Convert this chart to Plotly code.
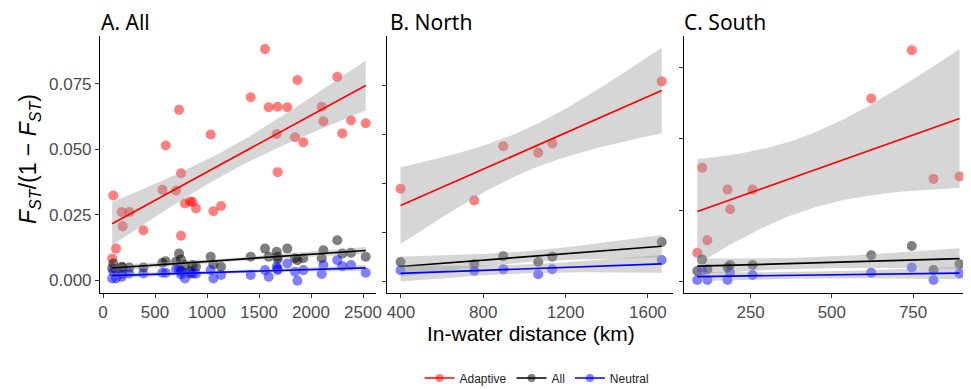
import numpy as np
import plotly.graph_objects as go

# ---------------- data ----------------
series_names = ["Adaptive", "All", "Neutral"]
series_colors = ["255,0,0", "0,0,0", "0,0,255"]

# Panel A: all 36 population pairs
dist_A = [88, 99, 125, 180, 189, 253, 388, 571, 603, 702, 731, 750, 750, 788, 837, 862, 894,
          1035, 1061, 1135, 1420, 1558, 1593, 1670, 1679, 1679, 1772, 1846, 1869, 1926,
          2103, 2119, 2253, 2301, 2385, 2526]
adaptive_A = [0.0082, 0.0323, 0.0120, 0.0260, 0.0205, 0.0260, 0.0190, 0.0345, 0.0514, 0.0342,
              0.0650, 0.0408, 0.0169, 0.0292, 0.0300, 0.0298, 0.0273, 0.0556, 0.0263, 0.0283,
              0.0698, 0.0882, 0.0660, 0.0558, 0.0662, 0.0412, 0.0660, 0.0545, 0.0764, 0.0526,
              0.0662, 0.0606, 0.0776, 0.0560, 0.0609, 0.0599]
all_A = [0.0045, 0.0063, 0.0040, 0.0051, 0.0048, 0.0048, 0.0048, 0.0066, 0.0072, 0.0070,
         0.0101, 0.0078, 0.0035, 0.0057, 0.0033, 0.0057, 0.0051, 0.0089, 0.0060, 0.0051,
         0.0089, 0.0120, 0.0089, 0.0108, 0.0089, 0.0080, 0.0120, 0.0083, 0.0076, 0.0083,
         0.0083, 0.0114, 0.0152, 0.0101, 0.0104, 0.0089]
neutral_A = [0.0006, 0.0032, 0.0006, 0.0013, 0.0023, 0.0025, 0.0025, 0.0028, 0.0028, 0.0041,
             0.0040, 0.0032, 0.0021, 0.0006, 0.0025, 0.0025, 0.0024, 0.0038, 0.0006, 0.0019,
             0.0019, 0.0038, 0.0013, 0.0051, 0.0038, 0.0043, 0.0063, 0.0032, -0.0003, 0.0038,
             0.0023, 0.0057, 0.0076, 0.0053, 0.0057, 0.0028]

# Panel B: North (6 pairs)
dist_B = [398, 756, 897, 1067, 1135, 1667]
adaptive_B = [0.0189, 0.0165, 0.0276, 0.0263, 0.0282, 0.0409]
all_B = [0.0039, 0.0035, 0.0051, 0.0039, 0.0050, 0.0080]
neutral_B = [0.0022, 0.0021, 0.0024, 0.0014, 0.0024, 0.0043]

# Panel C: South (10 pairs)
dist_C = [86, 101, 117, 179, 187, 256, 621, 746, 813, 893]
adaptive_C = [0.0081, 0.0319, 0.0116, 0.0258, 0.0203, 0.0258, 0.0513, 0.0648, 0.0288, 0.0295]
all_C = [0.0030, 0.0062, 0.0035, 0.0040, 0.0047, 0.0047, 0.0074, 0.0100, 0.0033, 0.0049]
neutral_C = [0.0005, 0.0030, 0.0005, 0.0005, 0.0025, 0.0019, 0.0025, 0.0040, 0.0005, 0.0023]

panel_titles = ["A. All", "B. North", "C. South"]
x_ticks_A = [0, 500, 1000, 1500, 2000, 2500]
x_ticks_B = [400, 800, 1200, 1600]
x_ticks_C = [250, 500, 750]
y_ticks_A = [0.0, 0.025, 0.05, 0.075]
y_ticklabels_A = ["0.000", "0.025", "0.050", "0.075"]
y_ticks_B = [0.0, 0.01, 0.02, 0.03, 0.04]
y_ticks_C = [0.0, 0.02, 0.04, 0.06]


# ---------------- helpers ----------------
def t_quantile(df, z=1.959964):
    """Cornish-Fisher expansion for the 97.5% quantile of Student's t."""
    g1 = (z**3 + z) / 4
    g2 = (5 * z**5 + 16 * z**3 + 3 * z) / 96
    g3 = (3 * z**7 + 19 * z**5 + 17 * z**3 - 15 * z) / 384
    g4 = (79 * z**9 + 776 * z**7 + 1482 * z**5 - 1920 * z**3 - 945 * z) / 92160
    return z + g1 / df + g2 / df**2 + g3 / df**3 + g4 / df**4


def lm_fit(x, y, n_grid=80):
    x = np.asarray(x, float)
    y = np.asarray(y, float)
    n = len(x)
    xb, yb = x.mean(), y.mean()
    sxx = ((x - xb) ** 2).sum()
    b1 = ((x - xb) * (y - yb)).sum() / sxx
    b0 = yb - b1 * xb
    s = np.sqrt(((y - b0 - b1 * x) ** 2).sum() / (n - 2))
    g = np.linspace(x.min(), x.max(), n_grid)
    yh = b0 + b1 * g
    se = s * np.sqrt(1 / n + (g - xb) ** 2 / sxx)
    t = t_quantile(n - 2)
    return g, yh, yh - t * se, yh + t * se


fig = go.Figure()

panels = [
    (dist_A, [adaptive_A, all_A, neutral_A], "x", "y"),
    (dist_B, [adaptive_B, all_B, neutral_B], "x2", "y2"),
    (dist_C, [adaptive_C, all_C, neutral_C], "x3", "y3"),
]

for dist, vals, xa, ya in panels:
    # points
    for name, col, v in zip(series_names, series_colors, vals):
        fig.add_trace(go.Scatter(
            x=dist, y=v, mode="markers", xaxis=xa, yaxis=ya, showlegend=False,
            marker=dict(size=10, color=f"rgba({col},0.5)", line=dict(width=0)),
            hoverinfo="skip"))
    # smooth ribbons and lines
    for name, col, v in zip(series_names, series_colors, vals):
        g, yh, lo, hi = lm_fit(dist, v)
        fig.add_trace(go.Scatter(
            x=np.concatenate([g, g[::-1]]), y=np.concatenate([lo, hi[::-1]]),
            fill="toself", fillcolor="rgba(153,153,153,0.4)", line=dict(width=0),
            mode="lines", xaxis=xa, yaxis=ya, showlegend=False, hoverinfo="skip"))
        fig.add_trace(go.Scatter(
            x=g, y=yh, mode="lines", xaxis=xa, yaxis=ya, showlegend=False,
            line=dict(color=f"rgb({col})", width=1.7), hoverinfo="skip"))

# legend entries
for name, col in zip(series_names, series_colors):
    fig.add_trace(go.Scatter(
        x=[None], y=[None], mode="lines+markers", name=name,
        line=dict(color=f"rgb({col})", width=1.7),
        marker=dict(size=8, color=f"rgba({col},0.5)")))

# ---------------- layout ----------------
# the page body adds an 8px offset, so the figure is drawn 8px smaller
OFF = 8
W, H = 971 - OFF, 389 - OFF
L, R, T, B = 100 - OFF, 3, 36 - OFF, 96
pw = W - L - R
ph = H - T - B
PL, PT = 100, 36  # plot-area left/top in page pixels


def dom(a, b):
    return [(a - PL) / pw, (b - PL) / pw]


axis_common = dict(showline=True, linecolor="black", linewidth=1.1, ticks="outside",
                   ticklen=4, tickcolor="#333333", showgrid=False, zeroline=False,
                   tickfont=dict(family="Liberation Sans, Arial", size=17, color="#4d4d4d"))

fig.update_layout(
    width=W, height=H, autosize=False,
    margin=dict(l=L, r=R, t=T, b=B, autoexpand=False),
    plot_bgcolor="white", paper_bgcolor="white",
    xaxis=dict(domain=dom(100, 376), range=[-29, 2625], tickvals=x_ticks_A, anchor="y", **axis_common),
    yaxis=dict(domain=[0, 1], range=[-0.00495, 0.0932], tickvals=y_ticks_A,
               ticktext=y_ticklabels_A, anchor="x", **axis_common),
    xaxis2=dict(domain=dom(387, 673), range=[332, 1722], tickvals=x_ticks_B, anchor="y2", **axis_common),
    yaxis2=dict(domain=[0, 1], range=[-0.00245, 0.0502], tickvals=y_ticks_B,
                showticklabels=False, anchor="x2", **axis_common),
    xaxis3=dict(domain=dom(684, 968), range=[45, 919], tickvals=x_ticks_C, anchor="y3", **axis_common),
    yaxis3=dict(domain=[0, 1], range=[-0.00315, 0.0688], tickvals=y_ticks_C,
                showticklabels=False, anchor="x3", **axis_common),
    legend=dict(orientation="h", xref="container", yref="container",
                x=(537 - OFF) / W, xanchor="center", y=(H - (378 - OFF)) / H, yanchor="middle",
                font=dict(family="Liberation Sans, Arial", size=12, color="#222"),
                bgcolor="rgba(0,0,0,0)"),
)

title_x = [100, 389, 683]
for t, xp in zip(panel_titles, title_x):
    fig.add_annotation(text=t, xref="paper", yref="paper", x=(xp - PL) / pw, y=1 + (PT - 21.7) / ph,
                       xanchor="left", yanchor="middle", showarrow=False, borderpad=0,
                       font=dict(family="Noto Sans, Open Sans", size=21, color="black"))

fig.add_annotation(text="In-water distance (km)", xref="paper", yref="paper",
                   x=(531 - PL) / pw, y=(PT + ph - 333) / ph, xanchor="center", yanchor="middle",
                   showarrow=False, font=dict(family="Liberation Sans, Arial", size=21, color="black"))

fig.add_annotation(text="<i>F<sub>ST</sub></i>/(1 − <i>F<sub>ST</sub></i>)", xref="paper", yref="paper",
                   x=(29 - PL) / pw, y=(PT + ph - 159) / ph, xanchor="center", yanchor="middle",
                   textangle=-90, showarrow=False,
                   font=dict(family="Liberation Sans, Arial", size=23, color="black"))

fig.write_html("out.html")
